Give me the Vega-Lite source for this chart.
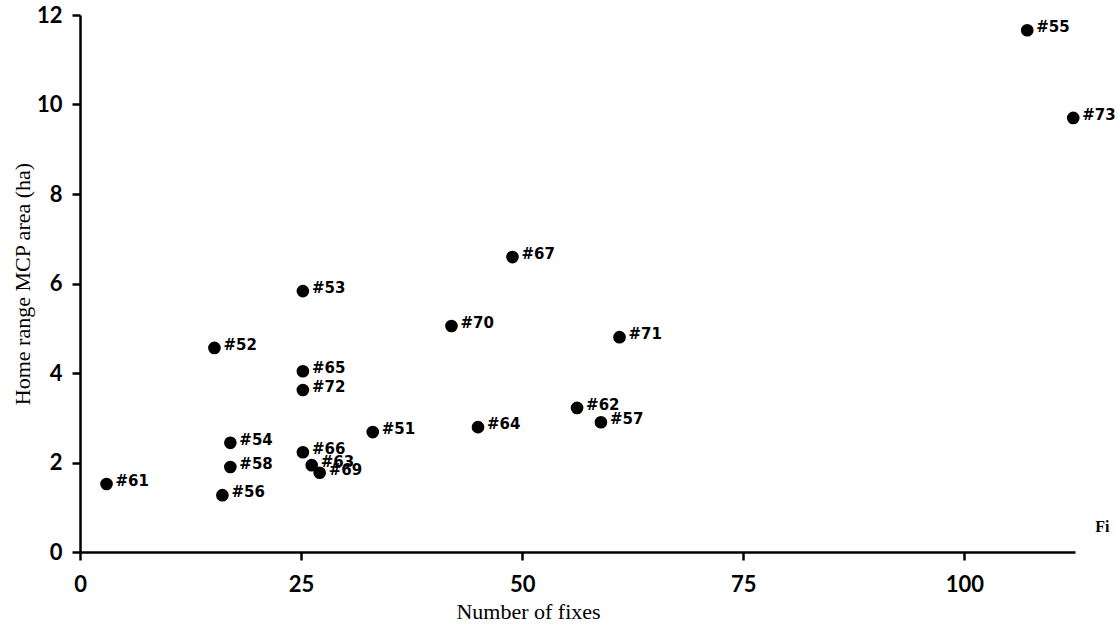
{
  "$schema": "https://vega.github.io/schema/vega-lite/v6.json",
  "autosize": "none",
  "width": 995,
  "height": 537,
  "padding": {"left": 80, "top": 15, "right": 42, "bottom": 79},
  "background": "white",
  "config": {
    "view": {"stroke": null},
    "axis": {
      "grid": false,
      "domainColor": "black",
      "domainWidth": 2.5,
      "tickColor": "black",
      "tickWidth": 2.5,
      "tickSize": 8,
      "labelFont": "Lato",
      "labelFontSize": 22,
      "labelFontWeight": "bold",
      "labelColor": "black",
      "labelFlush": false,
      "titleFont": "Liberation Serif",
      "titleFontSize": 22,
      "titleFontWeight": "normal",
      "titleColor": "black"
    }
  },
  "datasets": {
    "pts": [
      {"id": "#61", "fixes": 3.0, "area": 1.52},
      {"id": "#52", "fixes": 15.2, "area": 4.56},
      {"id": "#56", "fixes": 16.1, "area": 1.27},
      {"id": "#54", "fixes": 17.0, "area": 2.44},
      {"id": "#58", "fixes": 17.0, "area": 1.90},
      {"id": "#53", "fixes": 25.2, "area": 5.83},
      {"id": "#65", "fixes": 25.2, "area": 4.04},
      {"id": "#72", "fixes": 25.2, "area": 3.62},
      {"id": "#66", "fixes": 25.2, "area": 2.23},
      {"id": "#63", "fixes": 26.2, "area": 1.94},
      {"id": "#69", "fixes": 27.1, "area": 1.77},
      {"id": "#51", "fixes": 33.1, "area": 2.68},
      {"id": "#70", "fixes": 42.0, "area": 5.05},
      {"id": "#64", "fixes": 45.0, "area": 2.79},
      {"id": "#67", "fixes": 48.9, "area": 6.59},
      {"id": "#62", "fixes": 56.2, "area": 3.22},
      {"id": "#57", "fixes": 58.9, "area": 2.90},
      {"id": "#71", "fixes": 61.0, "area": 4.80},
      {"id": "#55", "fixes": 107.1, "area": 11.66},
      {"id": "#73", "fixes": 112.3, "area": 9.70}
    ],
    "note": [
      {"label": "Fi", "fixes": 114.8, "area": 0.55}
    ]
  },
  "layer": [
    {
      "data": {"name": "pts"},
      "mark": {"type": "point", "shape": "circle", "filled": true, "color": "black", "size": 160, "opacity": 1},
      "encoding": {
        "x": {
          "field": "fixes",
          "type": "quantitative",
          "scale": {"domain": [0, 112.5], "nice": false, "zero": true},
          "axis": {"values": [0, 25, 50, 75, 100], "title": "Number of fixes", "titleX": 448, "titlePadding": 6, "labelPadding": 14}
        },
        "y": {
          "field": "area",
          "type": "quantitative",
          "scale": {"domain": [0, 12], "nice": false},
          "axis": {"values": [0, 2, 4, 6, 8, 10, 12], "title": "Home range MCP area (ha)", "titlePadding": 2, "labelPadding": 10}
        }
      }
    },
    {
      "data": {"name": "pts"},
      "mark": {"type": "text", "align": "left", "baseline": "middle", "dx": 9, "dy": -3, "font": "DejaVu Sans", "fontWeight": "bold", "fontSize": 15, "color": "black"},
      "encoding": {
        "x": {"field": "fixes", "type": "quantitative"},
        "y": {"field": "area", "type": "quantitative"},
        "text": {"field": "id"}
      }
    },
    {
      "data": {"name": "note"},
      "mark": {"type": "text", "align": "left", "baseline": "middle", "font": "Liberation Serif", "fontWeight": "bold", "fontSize": 16, "color": "black"},
      "encoding": {
        "x": {"field": "fixes", "type": "quantitative"},
        "y": {"field": "area", "type": "quantitative"},
        "text": {"field": "label"}
      }
    }
  ]
}
